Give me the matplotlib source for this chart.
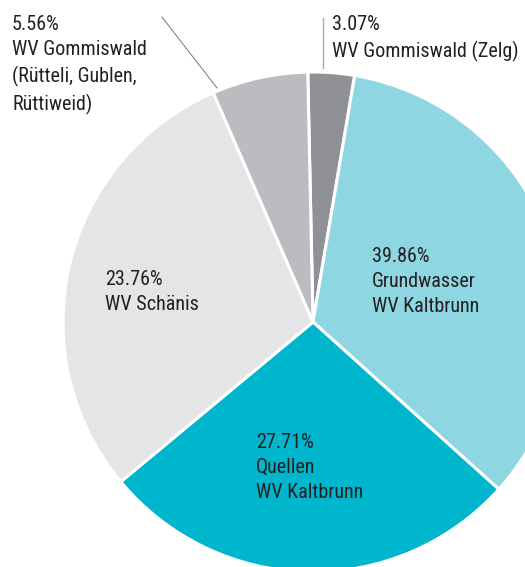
import matplotlib.pyplot as plt

# Slice shares as drawn in the picture (clockwise from top)
slice_share = [3.0, 34.0, 27.3, 29.5, 6.2]
pct_labels = ["3.07%", "39.86%", "27.71%", "23.76%", "5.56%"]
names = ["WV Gommiswald (Zelg)", "Grundwasser\nWV Kaltbrunn", "Quellen\nWV Kaltbrunn",
         "WV Schänis", "WV Gommiswald\n(Rütteli, Gublen,\nRüttiweid)"]
colors = ["#909196", "#8fd6e3", "#00b6cd", "#e4e5e7", "#bbbcc0"]

W, H = 525, 567

plt.rcParams['font.family'] = ['Roboto Condensed', 'DejaVu Sans Condensed', 'Roboto', 'DejaVu Sans']

fig = plt.figure(figsize=(W / 100, H / 100), dpi=100)
ax = fig.add_axes([0, 0, 1, 1])
ax.pie(slice_share, colors=colors, startangle=91.2, counterclock=False,
       center=(313, H - 322), radius=250, frame=True,
       wedgeprops=dict(edgecolor="white", linewidth=2.2))
ax.set_xlim(0, W)
ax.set_ylim(0, H)
ax.set_aspect('auto')
ax.axis('off')

txt = dict(fontsize=14.5, color="#231f20", ha="left", va="top", linespacing=1.41)

# labels inside the slices
ax.text(372, H - 247, pct_labels[1] + "\n" + names[1], **txt)
ax.text(256, H - 433, pct_labels[2] + "\n" + names[2], **txt)
ax.text(105, H - 270, pct_labels[3] + "\n" + names[3], **txt)

# outside labels with leader lines
ax.text(12, H - 15, pct_labels[4] + "\n" + names[4], **txt)
ax.text(332, H - 15, pct_labels[0] + "\n" + names[0], **txt)
ax.plot([162, 217], [H - 17, H - 88], color="#777777", lw=0.7)
ax.plot([323, 323], [H - 18, H - 68], color="#aaaaaa", lw=1.0)

fig.savefig("out.png", dpi=100)
